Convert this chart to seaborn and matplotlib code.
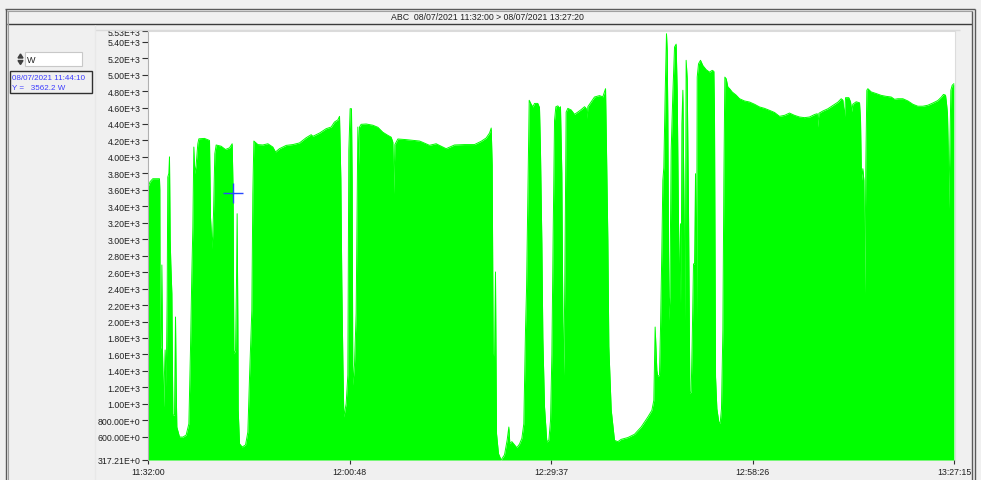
import matplotlib
matplotlib.use("Agg")
import matplotlib.pyplot as plt
import seaborn as sns
import pandas as pd
from matplotlib.patches import Rectangle, Polygon
from matplotlib.lines import Line2D

sns.set_style("white")
plt.rcParams['font.family'] = ['Liberation Sans', 'DejaVu Sans']

# Power trace: elapsed minutes since 11:32:00 and measured power in W
minutes = [
    0.00, 0.31, 0.69, 1.64, 1.69, 1.74, 1.88, 1.98, 2.07, 2.22, 2.36, 2.45, 2.60, 2.74,
    2.83, 2.98, 3.07, 3.17, 3.26, 3.41, 3.55, 3.79, 3.93, 4.03, 4.12, 4.50, 4.98, 5.45,
    5.84, 6.07, 6.26, 6.41, 6.55, 6.69, 6.88, 7.12, 7.27, 8.07, 8.79, 8.93, 9.17, 9.36,
    9.55, 9.74, 10.45, 11.07, 11.65, 12.03, 12.1667, 12.27, 12.51, 12.65, 12.74, 12.84,
    12.89, 13.08, 13.46, 13.94, 14.27, 14.51, 14.84, 14.98, 15.13, 15.70, 16.41, 17.13,
    17.84, 18.22, 18.79, 19.75, 20.70, 21.65, 22.60, 23.32, 23.56, 24.51, 25.46, 26.18,
    26.65, 27.13, 27.37, 27.56, 27.70, 27.85, 27.99, 28.32, 28.56, 28.70, 28.89, 29.08,
    29.18, 29.27, 29.51, 29.75, 29.99, 30.13, 30.23, 30.46, 31.18, 32.13, 32.85, 33.56,
    34.28, 34.75, 34.99, 35.14, 35.28, 35.71, 36.90, 38.80,
    39.04, 40.23, 41.18, 42.61, 43.80, 45.23, 46.66, 47.62, 48.33, 48.81, 49.05, 49.19,
    49.33, 49.52, 49.66, 49.76, 49.81, 50.09, 50.47, 50.95, 51.33, 51.57, 51.71, 52.00,
    52.38, 52.71, 53.09, 53.43, 53.71, 53.95, 54.10, 54.29, 54.48, 54.76, 55.00, 55.24,
    55.71, 55.95, 56.09, 56.29, 56.43, 56.67, 57.00, 57.29, 57.53, 57.72, 57.91, 58.10,
    58.29, 58.57, 58.81, 58.95, 59.14, 59.29, 59.43, 59.57, 59.76, 60.00, 60.48, 60.95,
    61.43, 61.91, 62.39, 62.62, 62.76, 62.86, 63.34, 63.81, 64.53, 65.00, 65.24, 65.39,
    65.53, 65.72, 65.86, 66.20, 66.67, 67.15, 67.62, 68.58, 69.53, 70.48, 71.44, 72.01,
    72.29, 72.39, 72.48, 72.63, 72.72, 72.86, 73.10, 73.25, 73.44, 73.58, 73.72, 73.91,
    74.10, 74.20, 74.29, 74.44, 74.58, 74.77, 75.01, 75.25, 75.48, 75.63, 75.82, 75.96,
    76.10, 76.20, 76.30, 76.44, 76.58, 76.77, 76.91, 77.06, 77.25, 77.44, 77.63,
    77.77, 77.96, 78.11, 78.25, 78.39, 78.49, 78.68, 78.96, 79.30, 79.77, 80.25, 80.63,
    80.87, 80.96, 81.11, 81.30, 81.58, 81.77, 81.96, 82.16, 82.30, 82.44, 82.63, 82.87,
    83.11, 83.49, 84.06, 84.54, 85.25, 85.97, 86.68, 87.40, 88.11, 88.82, 89.54, 90.25,
    90.97, 91.68, 92.40, 93.11, 93.83, 94.54, 95.26, 95.64, 95.73, 95.88, 96.45, 97.16,
    97.88, 98.59, 99.07, 99.31, 99.54, 99.69, 100.16, 100.40, 100.59, 100.73, 101.21,
    101.69, 101.83, 101.97, 102.16, 102.31, 102.45, 102.59, 102.73, 102.88, 103.35,
    104.07, 104.78, 105.50, 106.21, 106.69, 107.17, 107.88, 108.60, 109.31, 110.02,
    110.74, 111.45, 112.17, 112.88, 113.36, 113.69, 113.98, 114.12, 114.26, 114.36,
    114.45, 114.60, 114.74, 114.93, 115.17,
]
watts = [
    3634, 3700, 3735, 3735, 3600, 1654, 1700, 2687, 1650, 961, 1400, 1654, 1204, 2300,
    3756, 3800, 4000, 3000, 2700, 2338, 864, 864, 2055, 1200, 718, 597, 595, 620,
    758, 1654, 2565, 3148, 4120, 3796, 3900, 4160, 4220, 4225, 4200, 3270, 2885, 3300,
    4040, 4145, 4130, 4090, 4110, 4160, 3562.2, 1608, 1650, 2500, 3310, 2000,
    925, 515, 475, 500, 657, 1326, 2140, 3550, 4193, 4150, 4145, 4160,
    4120, 4060, 4100, 4140, 4150, 4170, 4233, 4270, 4250, 4290, 4343, 4363,
    4424, 4450, 4493, 3735, 2459, 1500, 840, 1002, 1350, 4080, 4586, 4586,
    3700, 1228, 1471, 2100, 4363, 3900, 4363, 4396, 4400, 4385, 4360, 4300,
    4262, 4240, 4180, 3553, 4150, 4218, 4210, 4193,
    4185, 4141, 4160, 4100, 4145, 4150, 4150, 4190, 4230, 4290, 4351, 3900,
    1609, 1500, 2602, 1200, 637, 394, 317.5, 380, 560, 718, 520, 540,
    500, 467, 510, 580, 758, 1893, 2398, 3500, 4688, 4640, 4607, 4650,
    4650, 4600, 4080, 2946, 1800, 961, 536, 560, 800, 1600, 3100, 4445,
    4610, 4620, 4590, 4610, 3800, 2000, 1346, 2500, 4545, 4590, 4570, 4517,
    4545, 4575, 4610, 4590, 4470, 4610, 4670, 4728, 4745, 4730, 4790, 4829,
    4080, 2987, 1700, 925, 556, 540, 568, 590, 630, 718, 840, 920,
    1042, 1500, 1933, 1600, 1407, 1330, 1350, 1933, 2900, 3716, 3870, 4760,
    5497, 5300, 4500, 2015, 2300, 4080, 4770, 5335, 5370, 4800, 3188, 2216,
    3188, 2216, 4400, 4810, 3600, 2015, 5174, 4950, 3300, 1123, 1150,
    1730, 2700, 2700, 3796, 2000, 4970, 5132, 5174, 5110, 5060, 5030, 5052,
    5040, 4525, 1326, 940, 779, 760, 940, 1900, 3700, 4970, 4950, 4850,
    4830, 4789, 4750, 4707, 4680, 4667, 4640, 4607, 4590, 4566, 4540, 4493,
    4505, 4533, 4505, 4485, 4477, 4485, 4515, 4525, 4363, 4530, 4558, 4585,
    4625, 4665, 4707, 4690, 4485, 4720, 4720, 4670, 4550, 4640, 4670,
    4658, 4450, 3716, 3857, 3716, 2338, 3900, 4810, 4829, 4790,
    4770, 4748, 4736, 4728, 4700, 4707, 4707, 4680, 4640, 4616,
    4616, 4628, 4655, 4685, 4725, 4760, 4750, 4650, 4525, 4120,
    3371, 4120, 4810, 4870, 4890,
]

cursor_time = "11:44:10"
cursor_watts = 3562.2
start_time = "11:32:00"
end_time = "13:27:20"
x_tick_labels = ["11:32:00", "12:00:48", "12:29:37", "12:58:26", "13:27:15"]
y_min, y_max = 317.21, 5530.0
y_ticks = [317.21] + [float(v) for v in range(600, 5401, 200)] + [5530.0]
series_name = "ABC"
unit = "W"
date = "08/07/2021"


def to_minutes(hms):
    h, m, s = (int(p) for p in hms.split(":"))
    h0, m0, s0 = (int(p) for p in start_time.split(":"))
    return (h * 3600 + m * 60 + s - (h0 * 3600 + m0 * 60 + s0)) / 60.0


def fmt_eng(v):
    if v >= 1000:
        return f"{v / 1000:.2f}E+3"
    return f"{v:.2f}E+0"


W, H = 981, 481
BG = "#f0f0f0"
fig = plt.figure(figsize=(W / 100, H / 100), dpi=100, facecolor=BG)


def fx(x):
    return x / W


def fy(y):
    return 1 - y / H


def hline(x1, x2, y, color, lw=1.0):
    fig.add_artist(Line2D([fx(x1), fx(x2)], [fy(y), fy(y)], transform=fig.transFigure,
                          color=color, lw=lw, solid_capstyle="butt"))


def vline(x, y1, y2, color, lw=1.0):
    fig.add_artist(Line2D([fx(x), fx(x)], [fy(y1), fy(y2)], transform=fig.transFigure,
                          color=color, lw=lw, solid_capstyle="butt"))


# window frame and title strip
hline(5, 975, 9.5, "#5a5a5a", 1.0)
hline(7, 972, 11.5, "#a0a0a0", 0.8)
hline(7, 972, 25, "#3c3c3c", 1.0)
hline(95, 960, 31, "#dadada", 1.0)
vline(5.5, 9.5, 481, "#5a5a5a", 1.0)
vline(7.5, 11.5, 481, "#a0a0a0", 0.8)
vline(972, 11.5, 481, "#5a5a5a", 1.0)
vline(975, 9.5, 481, "#5a5a5a", 1.0)
vline(95, 26, 481, "#e8e8e8", 1.0)
fig.text(fx(487), fy(18), f"{series_name}  {date} {start_time} > {date} {end_time}",
         ha="center", va="center", fontsize=6.3, color="#202020")

# unit selector box
fig.add_artist(Rectangle((fx(25), fy(67)), fx(82) - fx(25), fy(53) - fy(67),
                         transform=fig.transFigure, facecolor="white",
                         edgecolor="#c8c8c8", lw=0.8))
fig.add_artist(Polygon([[fx(18), fy(59)], [fx(23), fy(59)], [fx(20.5), fy(55)]],
                       closed=True, transform=fig.transFigure, color="#404040"))
fig.add_artist(Polygon([[fx(18), fy(61.5)], [fx(23), fy(61.5)], [fx(20.5), fy(65.5)]],
                       closed=True, transform=fig.transFigure, color="#404040"))
fig.text(fx(27), fy(60.5), unit, ha="left", va="center", fontsize=6.5, color="#202020")

# cursor readout box
fig.add_artist(Rectangle((fx(9.5), fy(94)), fx(92) - fx(9.5), fy(72) - fy(94),
                         transform=fig.transFigure, facecolor="none",
                         edgecolor="#303030", lw=1.0))
fig.text(fx(12.5), fy(78.5), f"{date} {cursor_time}", ha="left", va="center",
         fontsize=5.8, color="#3c3cff")
fig.text(fx(12.5), fy(88.5), f"Y =   {cursor_watts:.1f} {unit}", ha="left", va="center",
         fontsize=5.8, color="#3c3cff")

# plot area
ax = fig.add_axes([fx(148), fy(461), (955 - 148) / W, (461 - 32) / H])
ax.set_facecolor("white")
df = pd.DataFrame({"t": minutes, "w": watts})
ax.fill_between(df["t"], y_min, df["w"], color="#00ff00", lw=0)
sns.lineplot(data=df, x="t", y="w", ax=ax, color="#00ff00", lw=0.7,
             estimator=None, sort=False)

ax.plot([to_minutes(cursor_time)], [cursor_watts], marker="+", ms=14, mew=1.0,
        color="#2848ff", ls="none")

ax.set_xlim(0, to_minutes(end_time))
ax.set_ylim(y_min, y_max)
ax.set_yticks(y_ticks)
ax.set_yticklabels([fmt_eng(v) for v in y_ticks])
ax.set_xticks([to_minutes(t) for t in x_tick_labels])
ax.set_xticklabels(x_tick_labels)
ax.set_xlabel("")
ax.set_ylabel("")
ax.tick_params(axis="y", left=True, length=4, width=0.8, color="#303030", pad=1.5,
               labelsize=6.3, labelcolor="#202020")
ax.tick_params(axis="x", bottom=True, length=3, width=0.8, color="#303030", pad=2,
               labelsize=6.3, labelcolor="#202020")
ax.grid(False)
for side in ("top", "right"):
    ax.spines[side].set_color("#dcdcdc")
    ax.spines[side].set_linewidth(0.8)
ax.spines["left"].set_color("#b0b0b0")
ax.spines["left"].set_linewidth(0.8)
ax.spines["bottom"].set_visible(False)

fig.savefig("out.png", dpi=100, facecolor=BG)
